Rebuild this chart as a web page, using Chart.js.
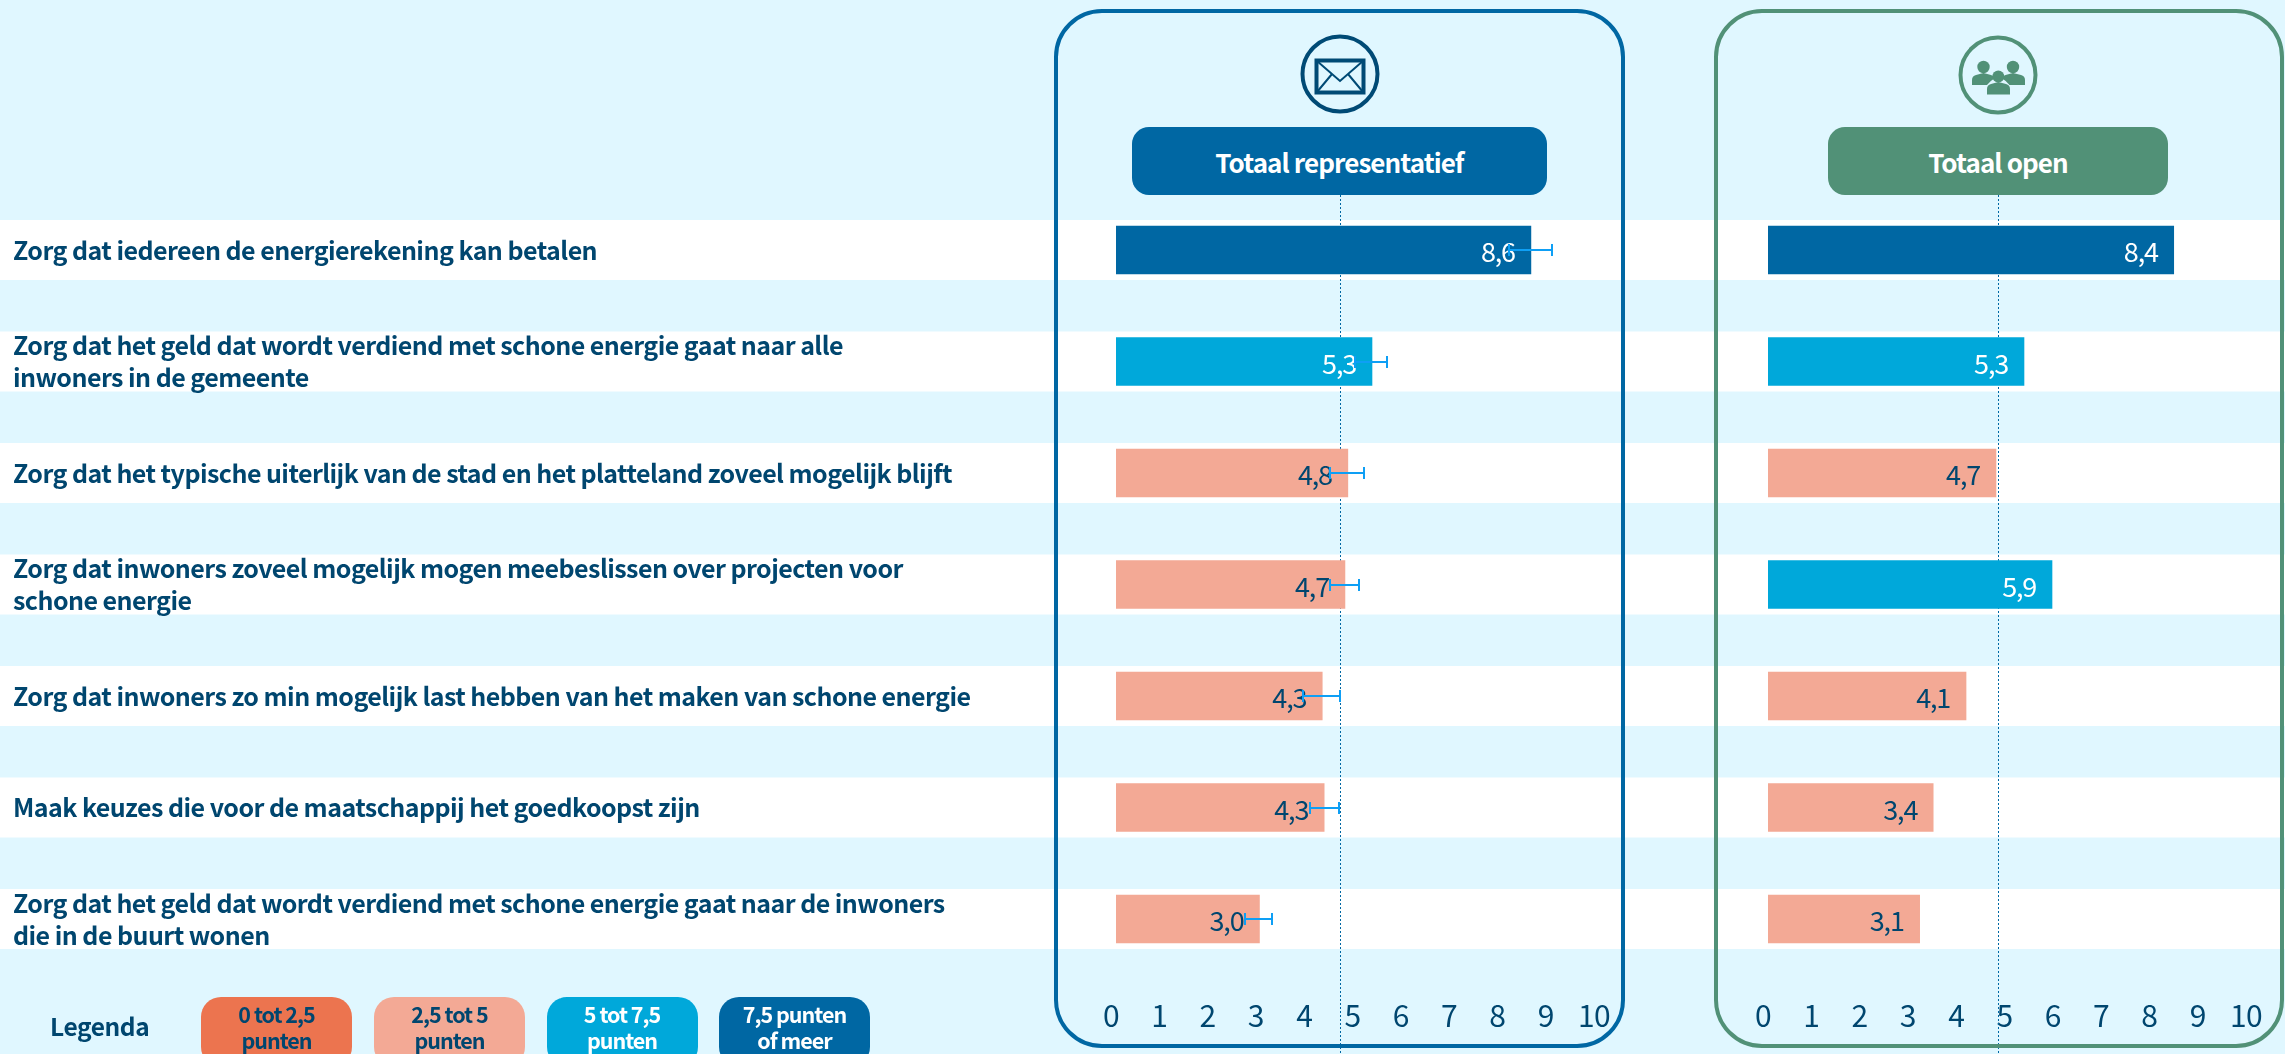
<!DOCTYPE html>
<html lang="nl">
<head>
<meta charset="utf-8">
<title>Totaal representatief en open</title>
<script src="https://cdn.jsdelivr.net/npm/chart.js@4/dist/chart.umd.min.js"></script>
<style>
html,body{margin:0;padding:0;width:2285px;height:1054px;overflow:hidden;background:#E0F7FF;font-family:"Noto Sans CJK SC","Noto Sans",sans-serif;}
canvas{position:absolute;top:0;}
#c1wrap,#c2wrap{position:absolute;top:0;height:1054px;}
#c1wrap{left:0;width:1640px;}
#c2wrap{left:1640px;width:645px;}
.panel{position:absolute;top:9px;height:1039px;box-sizing:border-box;border:4px solid;border-radius:48px;pointer-events:none;}
.pill{position:absolute;top:127px;height:68px;border-radius:17px;color:#fff;font-weight:700;font-size:26px;letter-spacing:-0.9px;display:flex;align-items:center;justify-content:center;}
.icon{position:absolute;}
.legend-title{position:absolute;left:50px;top:1007px;font-size:24.5px;letter-spacing:-0.4px;font-weight:700;color:#00466F;line-height:38px;}
.lg{position:absolute;top:997px;width:151px;height:70px;border-radius:20px;text-align:center;font-weight:700;font-size:21.5px;letter-spacing:-1px;line-height:26.5px;padding-top:3.5px;box-sizing:border-box;}
</style>
</head>
<body>
<div id="c1wrap"><canvas id="c1"></canvas></div>
<div id="c2wrap"><canvas id="c2"></canvas></div>

<div class="panel" style="left:1054px;width:571px;border-color:#0067A3"></div>
<div class="panel" style="left:1714px;width:570px;border-color:#519177"></div>

<div class="pill" style="left:1132px;width:415px;background:#0067A3">Totaal representatief</div>
<div class="pill" style="left:1828px;width:340px;background:#519177">Totaal open</div>

<svg class="icon" style="left:1296px;top:31px" width="88" height="86" viewBox="0 0 88 86">
  <circle cx="44" cy="43" r="37.5" fill="none" stroke="#004A75" stroke-width="4"/>
  <rect x="20.5" y="29.5" width="47" height="32" fill="none" stroke="#004A75" stroke-width="4"/>
  <path d="M21 30 L44 50 L67 30 M21 61 L36 43 M67 61 L52 43" fill="none" stroke="#004A75" stroke-width="2"/>
</svg>
<svg class="icon" style="left:1954px;top:31px" width="88" height="88" viewBox="0 0 88 88">
  <circle cx="44" cy="44" r="37.5" fill="none" stroke="#519177" stroke-width="4"/>
  <g fill="#519177">
    <circle cx="29.5" cy="36" r="6.2"/>
    <circle cx="59" cy="36" r="6.2"/>
    <path d="M18 54 V49 Q18 45 22 44 L29.5 42 L37 44 Q40 45 41 47 Q36 50 33 54 Z"/>
    <path d="M71 54 V49 Q71 45 67 44 L59 42 L51.5 44 Q48.5 45 47.5 47 Q52.5 50 55.5 54 Z"/>
    <circle cx="44.3" cy="45.5" r="6"/>
    <path d="M33 63.5 V58 Q33 54 37 53 L44.3 51 L52 53 Q56 54 56 58 V63.5 Z"/>
  </g>
</svg>

<div class="legend-title">Legenda</div>
<div class="lg" style="left:201px;background:#EC744F;color:#00466F">0 tot 2,5<br>punten</div>
<div class="lg" style="left:374px;background:#F3A995;color:#00466F">2,5 tot 5<br>punten</div>
<div class="lg" style="left:546.5px;background:#00A8DA;color:#fff">5 tot 7,5<br>punten</div>
<div class="lg" style="left:719px;background:#0067A3;color:#fff">7,5 punten<br>of meer</div>

<script>
const categories = [
  "Zorg dat iedereen de energierekening kan betalen",
  ["Zorg dat het geld dat wordt verdiend met schone energie gaat naar alle", "inwoners in de gemeente"],
  "Zorg dat het typische uiterlijk van de stad en het platteland zoveel mogelijk blijft",
  ["Zorg dat inwoners zoveel mogelijk mogen meebeslissen over projecten voor", "schone energie"],
  "Zorg dat inwoners zo min mogelijk last hebben van het maken van schone energie",
  "Maak keuzes die voor de maatschappij het goedkoopst zijn",
  ["Zorg dat het geld dat wordt verdiend met schone energie gaat naar de inwoners", "die in de buurt wonen"]
];
const repValues  = [8.59, 5.30, 4.80, 4.74, 4.27, 4.31, 2.97];
const repLow     = [8.14, 4.95, 4.44, 4.44, 3.88, 4.02, 2.68];
const repHigh    = [9.03, 5.61, 5.13, 5.03, 4.64, 4.61, 3.24];
const openValues = [8.40, 5.30, 4.72, 5.88, 4.10, 3.42, 3.14];
const repReference  = 4.63;
const openReference = 4.77;
const tickValues = [0, 1, 2, 3, 4, 5, 6, 7, 8, 9, 10];

const FONT = '"Noto Sans CJK SC","Noto Sans",sans-serif';
const INK = '#00466F';
const binColor = v => v < 2.5 ? '#EC744F' : v < 5 ? '#F3A995' : v < 7.5 ? '#00A8DA' : '#0067A3';
const binInk = v => v < 5 ? INK : '#FFFFFF';

const bandsPlugin = {
  id: 'bands',
  beforeDraw(chart) {
    const { ctx, width, scales: { y } } = chart;
    ctx.letterSpacing = '-0.55px';
    ctx.save();
    ctx.fillStyle = '#FFFFFF';
    categories.forEach((_, i) => {
      const yc = y.getPixelForValue(i);
      ctx.fillRect(0, yc - 30, width, 60);
    });
    ctx.restore();
  }
};

const referencePlugin = {
  id: 'reference',
  beforeDatasetsDraw(chart, args, opts) {
    const { ctx, height, scales: { x } } = chart;
    const px = Math.round(x.getPixelForValue(opts.value)) + 0.5;
    ctx.save();
    ctx.strokeStyle = '#0067A3';
    ctx.lineWidth = 1;
    ctx.setLineDash([2, 2]);
    ctx.beginPath();
    ctx.moveTo(px, 195);
    ctx.lineTo(px, height);
    ctx.stroke();
    ctx.restore();
  }
};

const valueLabelPlugin = {
  id: 'valueLabels',
  afterDatasetsDraw(chart) {
    const { ctx } = chart;
    const meta = chart.getDatasetMeta(0);
    ctx.save();
    ctx.font = '400 27px ' + FONT;
    ctx.letterSpacing = '-1.2px';
    ctx.textAlign = 'right';
    ctx.textBaseline = 'middle';
    chart.data.datasets[0].data.forEach((v, i) => {
      ctx.fillStyle = binInk(v);
      ctx.fillText(v.toFixed(1).replace('.', ','), meta.data[i].x - 16, meta.data[i].y + 2);
    });
    ctx.restore();
  }
};

const errorBarPlugin = {
  id: 'errorBars',
  afterDatasetsDraw(chart, args, opts) {
    if (!opts.low) return;
    const { ctx, scales: { x, y } } = chart;
    ctx.save();
    ctx.strokeStyle = '#0E9FF5';
    ctx.lineWidth = 2;
    opts.low.forEach((lo, i) => {
      const x0 = Math.round(x.getPixelForValue(lo)), x1 = Math.round(x.getPixelForValue(opts.high[i]));
      const yc = Math.round(y.getPixelForValue(i));
      ctx.beginPath();
      ctx.moveTo(x0, yc); ctx.lineTo(x1, yc);
      ctx.moveTo(x0, yc - 6); ctx.lineTo(x0, yc + 6);
      ctx.moveTo(x1, yc - 6); ctx.lineTo(x1, yc + 6);
      ctx.stroke();
    });
    ctx.restore();
  }
};

function makeChart(id, w, values, reference, errors, padding, showLabels, yWidth) {
  const canvas = document.getElementById(id);
  canvas.width = w; canvas.height = 1054;
  canvas.style.width = w + 'px'; canvas.style.height = '1054px';
  return new Chart(canvas, {
    type: 'bar',
    data: {
      labels: categories,
      datasets: [{
        data: values,
        backgroundColor: values.map(binColor),
        barThickness: 48,
        borderWidth: 0
      }]
    },
    plugins: [bandsPlugin, referencePlugin, valueLabelPlugin, errorBarPlugin],
    options: {
      indexAxis: 'y',
      responsive: false,
      animation: false,
      layout: { padding },
      plugins: {
        legend: { display: false },
        tooltip: { enabled: false },
        title: { display: false },
        reference: { value: reference },
        errorBars: errors
      },
      scales: {
        x: {
          type: 'linear', min: 0, max: 10,
          afterBuildTicks(s) { s.ticks = tickValues.map(value => ({ value })); },
          afterFit(s) { s.height = 79.25; },
          grid: { display: false, drawTicks: true, tickLength: 23 },
          border: { display: false },
          ticks: {
            color: INK,
            font: { family: FONT, size: 30, weight: '400' },
            padding: 0,
            maxRotation: 0,
            autoSkip: false,
            labelOffset: -5
          }
        },
        y: {
          type: 'category',
          afterFit(s) { s.width = yWidth; },
          grid: { display: false },
          border: { display: false },
          ticks: {
            display: showLabels,
            color: INK,
            crossAlign: 'far',
            autoSkip: false,
            font: { family: FONT, size: 25, weight: '700', lineHeight: 1.28 }
          }
        }
      }
    }
  });
}

makeChart('c1', 1640, repValues, repReference, { low: repLow, high: repHigh },
  { left: 13, right: 41, top: 194.25, bottom: 0 }, true, 1103);
makeChart('c2', 645, openValues, openReference, {},
  { left: 128, right: 34, top: 194.25, bottom: 0 }, false, 0);
</script>
</body>
</html>
